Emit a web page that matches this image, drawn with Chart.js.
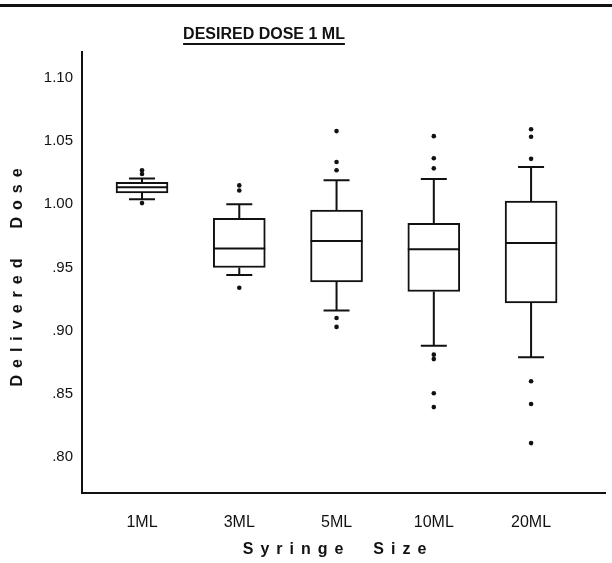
<!DOCTYPE html>
<html>
<head>
<meta charset="utf-8">
<script src="https://cdn.jsdelivr.net/npm/chart.js@4.4.1/dist/chart.umd.min.js"></script>
<style>
  html, body { margin: 0; padding: 0; background: #fff; }
  #wrap { position: relative; width: 612px; height: 563px; }
  #rule { position: absolute; left: 0; top: 4px; width: 612px; height: 3px; background: #111; }
</style>
</head>
<body>
<div id="wrap">
  <div id="rule"></div>
  <canvas id="grafico" width="612" height="563"></canvas>
</div>
<script>
// valores
const categories = ['1ML', '3ML', '5ML', '10ML', '20ML'];
const whiskerLow = [1.004, 0.944, 0.916, 0.888, 0.879];
const q1 = [1.009, 0.950, 0.9385, 0.931, 0.922];
const median = [1.0135, 0.965, 0.971, 0.9645, 0.9695];
const q3 = [1.0175, 0.989, 0.9955, 0.985, 1.0025];
const whiskerHigh = [1.0205, 1.000, 1.019, 1.020, 1.0295];
const outliers = [
    [1.024, 1.027, 1.001],
    [1.011, 1.015, 0.934],
    [1.058, 1.0335, 1.027, 0.910, 0.903],
    [1.054, 1.0365, 1.0285, 0.881, 0.8775, 0.8505, 0.8395],
    [1.0595, 1.0535, 1.036, 0.860, 0.842, 0.811]
];
const yTicks = [0.80, 0.85, 0.90, 0.95, 1.00, 1.05, 1.10];
const yTickLabels = ['.80', '.85', '.90', '.95', '1.00', '1.05', '1.10'];

const tinta = '#111';
const larguraCaixa = 52;

// bigodes, tampas e medianas
const caixas = {
    id: 'caixas',
    afterDatasetsDraw(chart) {
        const { ctx, scales: { x, y } } = chart;
        ctx.save();
        ctx.strokeStyle = tinta;
        ctx.lineWidth = 2;
        categories.forEach((c, i) => {
            const cx = x.getPixelForValue(i + 1);
            const meia = larguraCaixa / 2;
            const tampa = larguraCaixa / 4;
            const yHi = y.getPixelForValue(whiskerHigh[i]);
            const yLo = y.getPixelForValue(whiskerLow[i]);
            ctx.beginPath();
            ctx.moveTo(cx, y.getPixelForValue(q3[i]));
            ctx.lineTo(cx, yHi);
            ctx.moveTo(cx, y.getPixelForValue(q1[i]));
            ctx.lineTo(cx, yLo);
            ctx.moveTo(cx - tampa, yHi);
            ctx.lineTo(cx + tampa, yHi);
            ctx.moveTo(cx - tampa, yLo);
            ctx.lineTo(cx + tampa, yLo);
            const yMed = y.getPixelForValue(median[i]);
            ctx.moveTo(cx - meia, yMed);
            ctx.lineTo(cx + meia, yMed);
            ctx.stroke();
        });
        ctx.restore();
    },
    afterDraw(chart) {
        const { ctx } = chart;
        ctx.save();
        ctx.fillStyle = tinta;
        ctx.strokeStyle = tinta;

        // título sublinhado
        ctx.font = 'bold 16px "Liberation Sans", Arial, sans-serif';
        ctx.textAlign = 'center';
        ctx.textBaseline = 'middle';
        const titulo = 'DESIRED DOSE 1 ML';
        ctx.fillText(titulo, 264, 35);
        const w = ctx.measureText(titulo).width;
        ctx.lineWidth = 2;
        ctx.beginPath();
        ctx.moveTo(264 - w / 2, 44);
        ctx.lineTo(264 + w / 2, 44);
        ctx.stroke();

        // títulos dos eixos, espaçados
        ctx.letterSpacing = '7px';
        ctx.font = 'bold 16px "Liberation Sans", Arial, sans-serif';
        ctx.fillText('Syringe  Size', 338, 550);

        ctx.translate(18, 277);
        ctx.rotate(-Math.PI / 2);
        ctx.fillText('Delivered  Dose', 3, 0);
        ctx.restore();
    }
};

const dadosCaixas = categories.map((c, i) => ({ x: i + 1, y: [q1[i], q3[i]] }));
const dadosPontos = [];
outliers.forEach((lista, i) => {
    lista.forEach(v => dadosPontos.push({ x: i + 1, y: v }));
});

new Chart(document.getElementById('grafico'), {
    type: 'bar',
    data: {
        datasets: [
            {
                data: dadosCaixas,
                backgroundColor: '#fff',
                borderColor: tinta,
                borderWidth: 2,
                borderSkipped: false,
                barThickness: larguraCaixa
            },
            {
                type: 'scatter',
                data: dadosPontos,
                pointRadius: 2.3,
                pointBackgroundColor: tinta,
                pointBorderWidth: 0
            }
        ]
    },
    options: {
        responsive: false,
        animation: false,
        layout: { padding: { top: 52, left: 40, right: 7, bottom: 0 } },
        plugins: {
            legend: { display: false },
            tooltip: { enabled: false }
        },
        scales: {
            x: {
                type: 'linear',
                offset: false,
                min: 0.383,
                max: 5.76,
                grid: { display: false, drawTicks: false },
                border: { display: true, color: tinta, width: 2 },
                afterBuildTicks: scale => {
                    scale.ticks = categories.map((c, i) => ({ value: i + 1 }));
                },
                afterFit: scale => { scale.height = 70; },
                ticks: {
                    padding: 20,
                    maxRotation: 0,
                    color: tinta,
                    font: { family: '"Liberation Sans", Arial, sans-serif', size: 16 },
                    callback: (v, i) => categories[i]
                }
            },
            y: {
                min: 0.7715,
                max: 1.1206,
                grid: { display: false, drawTicks: false },
                border: { display: true, color: tinta, width: 2 },
                afterBuildTicks: scale => {
                    scale.ticks = yTicks.map(v => ({ value: v }));
                },
                afterFit: scale => { scale.width = 42; },
                ticks: {
                    padding: 9,
                    color: tinta,
                    font: { family: '"Liberation Sans", Arial, sans-serif', size: 15 },
                    callback: (v, i) => yTickLabels[i]
                }
            }
        }
    },
    plugins: [caixas]
});
</script>
</body>
</html>
